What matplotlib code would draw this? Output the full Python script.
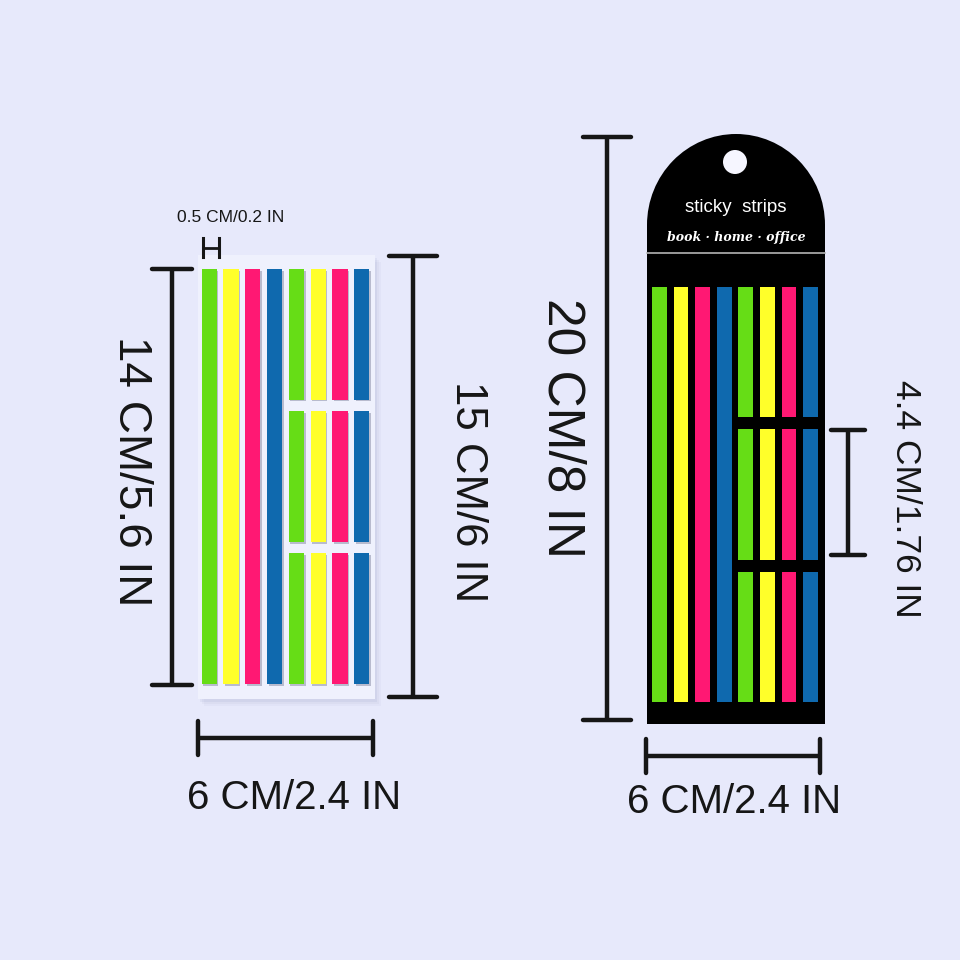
import numpy as np
import matplotlib
matplotlib.use("Agg")
import matplotlib.pyplot as plt
from matplotlib.patches import Rectangle, Ellipse, Circle

# =========================================================
# DONNEES
# =========================================================
strip_colors = ["#66DD16", "#FFFF2A", "#FF1873", "#0F69AE",
                "#66DD16", "#FFFF2A", "#FF1873", "#0F69AE"]
n_full = 4          # colonnes pleine longueur
n_pieces = 3        # morceaux dans les colonnes coupees

small_label = "0.5 CM/0.2 IN"
left_height_label = "14 CM/5.6 IN"
sheet_height_label = "15 CM/6 IN"
left_width_label = "6 CM/2.4 IN"
pack_height_label = "20 CM/8 IN"
piece_label = "4.4 CM/1.76 IN"
right_width_label = "6 CM/2.4 IN"
pack_title = "sticky  strips"
pack_sub = "book · home · office"

# =========================================================
# MISE EN PAGE (pixels)
# =========================================================
BG = "#E7E9FB"
INK = "#161616"
FONT = "Liberation Sans"
LW = 3.2

fig = plt.figure(figsize=(9.6, 9.6), dpi=100)
fig.patch.set_facecolor(BG)
ax = fig.add_axes([0, 0, 1, 1])
ax.set_xlim(0, 960)
ax.set_ylim(960, 0)
ax.set_aspect("equal")
ax.axis("off")


def draw_strips(x0, pitch, width, top, bottom, gap, shadow):
    piece_h = (bottom - top - gap * (n_pieces - 1)) / n_pieces
    for i, c in enumerate(strip_colors):
        x = x0 + i * pitch + width / 2
        if i < n_full:
            tops = [top]
            hs = [bottom - top]
        else:
            tops = [top + k * (piece_h + gap) for k in range(n_pieces)]
            hs = [piece_h] * n_pieces
        if shadow:
            ax.bar([x + 1.6] * len(tops), hs, bottom=[t + 1.8 for t in tops],
                   width=width, color="#8C90A8", alpha=0.55, zorder=3)
        ax.bar([x] * len(tops), hs, bottom=tops, width=width, color=c, zorder=4)


def dim_v(x, y0, y1, cap):
    ax.plot([x, x], [y0, y1], color=INK, lw=LW, solid_capstyle="butt", zorder=6)
    for y in (y0, y1):
        ax.plot([x - cap, x + cap], [y, y], color=INK, lw=LW,
                solid_capstyle="round", zorder=6)


def dim_h(y, x0, x1, cap):
    ax.plot([x0, x1], [y, y], color=INK, lw=LW, solid_capstyle="butt", zorder=6)
    for x in (x0, x1):
        ax.plot([x, x], [y - cap, y + cap], color=INK, lw=LW,
                solid_capstyle="round", zorder=6)


# ---------------- feuille de gauche ----------------
for k, a in enumerate([0.10, 0.08, 0.06]):
    ax.add_patch(Rectangle((198 + 2 + k * 2, 255 + 3 + k * 2), 177, 444,
                           facecolor="#8E93B8", alpha=a, lw=0, zorder=1))
ax.add_patch(Rectangle((198, 255), 177, 444, facecolor="#EFF1FD", lw=0, zorder=2))
draw_strips(201.5, 21.8, 15.2, 269, 684, 11.5, shadow=True)

# repere 0.5 cm
ax.plot([202.5, 202.5], [238, 257], color=INK, lw=2.2, zorder=6)
ax.plot([218.5, 218.5], [238, 257], color=INK, lw=2.2, zorder=6)
ax.plot([202.5, 218.5], [248, 248], color=INK, lw=2.0, zorder=6)
ax.text(231, 218, small_label, fontsize=12.5, family=FONT, color=INK,
        ha="center", va="center")

dim_v(172, 269, 685, 20)
ax.text(131, 471, left_height_label, fontsize=33, family=FONT, color=INK,
        rotation=-90, ha="center", va="center")

dim_v(413, 256, 697, 24)
ax.text(467, 492, sheet_height_label, fontsize=31.5, family=FONT, color=INK,
        rotation=-90, ha="center", va="center")

dim_h(738, 198, 373, 17)
ax.text(294, 798, left_width_label, fontsize=29, family=FONT, color=INK,
        ha="center", va="center")

# ---------------- emballage de droite ----------------
ax.add_patch(Rectangle((647, 225), 178, 499, facecolor="black", lw=0, zorder=2))
ax.add_patch(Ellipse((736, 225), 178, 182, facecolor="black", lw=0, zorder=2))
ax.add_patch(Circle((735, 162), 12, facecolor="#F6F6FF", lw=0, zorder=3))
ax.plot([647, 825], [253, 253], color="#B4B4B4", lw=1.2, zorder=3)
ax.text(736, 208, pack_title, fontsize=13.5, family=FONT, color="white",
        ha="center", va="center", zorder=5)
ax.text(736, 237, pack_sub, fontsize=9, family="DejaVu Serif", style="italic",
        weight="bold", color="white", ha="center", va="center", zorder=5)
draw_strips(652, 21.6, 14.7, 287, 702, 12, shadow=False)

dim_v(607, 137, 720, 24)
ax.text(562, 428, pack_height_label, fontsize=37, family=FONT, color=INK,
        rotation=-90, ha="center", va="center")

dim_v(848, 430, 555, 17)
ax.text(906, 499, piece_label, fontsize=25.5, family=FONT, color=INK,
        rotation=-90, ha="center", va="center")

dim_h(756, 646, 820, 17)
ax.text(734, 802, right_width_label, fontsize=29, family=FONT, color=INK,
        ha="center", va="center")

fig.savefig("out.png", dpi=100, facecolor=BG)
